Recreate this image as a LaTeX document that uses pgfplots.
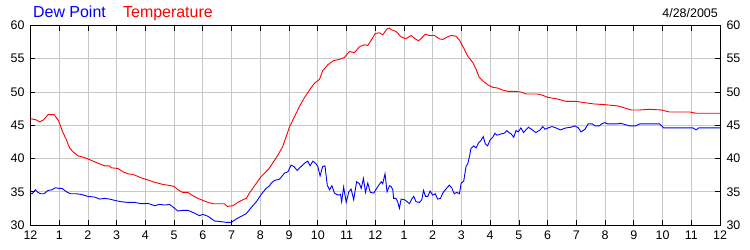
\documentclass[border=0pt]{standalone}
\usepackage{fontspec}
\setmainfont{Liberation Sans}
\usepackage{pgfplots}
\pgfplotsset{compat=1.18}
\definecolor{gridgray}{RGB}{200,200,200}
\definecolor{tblue}{RGB}{0,0,255}
\definecolor{tred}{RGB}{255,0,0}
\begin{document}
\begin{tikzpicture}
\useasboundingbox (0,0) rectangle (750bp,250bp);
\pgfplotsset{commonax/.style={
  at={(30.5bp,25bp)}, anchor=south west, scale only axis,
  width=689.5bp, height=199.5bp,
  xmin=0, xmax=24, ymin=30, ymax=60,
  xtick={0,...,24}, ytick={30,35,...,60},
  tick align=inside, major tick length=5bp,
  /pgf/number format/assume math mode=true,
  tick label style={font=\fontsize{12.5}{14}\selectfont},
}}
\begin{axis}[commonax,
  xticklabels={12,1,2,3,4,5,6,7,8,9,10,11,12,1,2,3,4,5,6,7,8,9,10,11,12},
  grid=major, major grid style={color=gridgray, line width=0.9bp},
  xtick pos=both, ytick pos=both,
  tick style={black, line width=0.8bp},
  axis line style={black, line width=1bp},
  xticklabel pos=left, yticklabel pos=left,
  xticklabel style={yshift=-2bp},
  yticklabel style={xshift=-2.5bp},
]
\addplot[tred, line width=0.9bp] coordinates {
(0,46.0) (0.2,45.8) (0.32,45.5) (0.45,45.8) (0.61,46.6) (0.82,46.6) (0.96,45.8) (1.01,45.3) (1.11,44.1) (1.25,42.8) (1.36,41.6) (1.48,41.0) (1.65,40.4) (1.83,40.2) (2.02,39.9) (2.23,39.5) (2.4,39.2) (2.58,38.9) (2.75,38.9) (2.81,38.6) (3.04,38.5) (3.22,38.0) (3.39,37.7) (3.57,37.6) (3.74,37.3) (3.91,37.0) (4.14,36.7) (4.26,36.5) (4.43,36.3) (4.61,36.1) (4.90,35.9) (5.0,35.8) (5.13,35.3) (5.30,34.9) (5.48,34.9) (5.65,34.4) (5.83,34.0) (6.0,33.7) (6.18,33.4) (6.35,33.2) (6.58,33.2) (6.75,33.2) (6.85,32.8) (7.04,32.9) (7.22,33.4) (7.39,33.8) (7.51,34.0) (7.62,34.8) (7.80,35.9) (8.03,37.3) (8.15,37.8) (8.32,38.6) (8.43,39.3) (8.61,40.5) (8.78,41.8) (8.90,43.3) (9.01,44.7) (9.19,46.3) (9.36,47.8) (9.54,49.2) (9.71,50.3) (9.88,51.3) (10.06,51.9) (10.17,53.2) (10.35,54.1) (10.54,54.7) (10.75,54.9) (10.93,55.2) (11.10,56.1) (11.27,55.9) (11.45,56.8) (11.62,57.1) (11.74,57.0) (11.86,57.8) (12.0,58.8) (12.15,58.9) (12.26,58.6) (12.41,59.5) (12.49,59.6) (12.55,59.4) (12.72,59.1) (12.90,58.3) (13.07,58.0) (13.25,58.5) (13.36,58.1) (13.5,57.7) (13.59,58.0) (13.74,58.7) (13.88,58.5) (14.06,58.5) (14.23,58.0) (14.35,57.9) (14.52,58.3) (14.64,58.5) (14.81,58.4) (14.93,57.8) (15.08,56.6) (15.22,55.4) (15.40,54.4) (15.51,53.4) (15.62,52.2) (15.74,51.7) (15.91,51.1) (16.09,50.7) (16.26,50.6) (16.43,50.3) (16.61,50.1) (16.84,50.1) (17.07,50.0) (17.25,49.7) (17.65,49.7) (17.83,49.5) (18.0,49.2) (18.29,49.0) (18.46,48.8) (18.64,48.6) (18.98,48.6) (19.28,48.4) (19.62,48.2) (19.98,48.1) (20.22,48.0) (20.45,47.9) (20.68,47.6) (20.91,47.3) (21.2,47.3) (21.55,47.4) (21.95,47.3) (22.24,47.0) (22.59,47.0) (22.94,47.0) (23.17,46.8) (23.52,46.8) (24,46.8)
};
\addplot[tblue, line width=0.9bp] coordinates {
(0,34.8) (0.06,34.7) (0.17,35.3) (0.26,34.9) (0.35,34.7) (0.47,34.7) (0.61,35.2) (0.75,35.3) (0.86,35.6) (1.01,35.5) (1.10,35.5) (1.25,35.0) (1.39,34.7) (1.59,34.7) (1.77,34.6) (2.0,34.3) (2.23,34.2) (2.41,33.9) (2.58,34.0) (2.75,33.9) (2.93,33.7) (3.16,33.5) (3.39,33.4) (3.62,33.4) (3.86,33.2) (4.09,33.25) (4.32,32.9) (4.49,33.1) (4.67,33.0) (4.84,33.1) (4.96,32.7) (5.13,32.1) (5.30,32.2) (5.48,32.2) (5.65,31.9) (5.88,31.4) (6.0,31.6) (6.18,31.3) (6.41,30.6) (6.64,30.5) (6.81,30.4) (6.99,30.4) (7.16,30.9) (7.33,31.3) (7.51,31.7) (7.68,32.6) (7.86,33.5) (8.03,34.6) (8.20,35.5) (8.32,35.9) (8.38,36.3) (8.49,36.7) (8.67,36.9) (8.84,37.8) (8.96,38.0) (9.07,39.0) (9.17,38.8) (9.28,38.2) (9.42,38.8) (9.54,39.3) (9.65,39.6) (9.73,38.9) (9.83,39.6) (9.94,39.2) (10.0,38.8) (10.08,37.4) (10.17,38.8) (10.25,38.9) (10.33,36.0) (10.41,35.3) (10.49,35.9) (10.58,34.8) (10.70,34.5) (10.79,34.6) (10.83,33.5) (10.90,35.7) (10.99,33.4) (11.08,35.0) (11.16,35.4) (11.25,33.8) (11.35,36.5) (11.45,36.2) (11.51,35.5) (11.59,37.0) (11.66,34.9) (11.74,36.3) (11.83,34.9) (11.95,34.8) (12.09,35.8) (12.21,36.5) (12.26,36.2) (12.34,37.7) (12.41,35.0) (12.5,35.9) (12.55,35.8) (12.61,35.3) (12.64,34.0) (12.72,34.0) (12.78,33.5) (12.84,32.5) (12.90,33.9) (13.02,33.8) (13.11,33.5) (13.19,33.2) (13.27,33.9) (13.34,34.3) (13.42,33.5) (13.54,33.4) (13.62,33.8) (13.68,35.2) (13.75,34.3) (13.83,34.3) (13.91,35.1) (14.0,34.5) (14.09,34.7) (14.17,33.9) (14.27,34.0) (14.35,34.8) (14.46,35.4) (14.58,36.0) (14.66,35.6) (14.75,34.7) (14.84,34.9) (14.93,34.7) (14.99,36.3) (15.08,36.6) (15.16,38.8) (15.22,39.2) (15.28,40.3) (15.33,41.5) (15.43,41.9) (15.51,41.6) (15.59,42.3) (15.68,42.7) (15.76,43.3) (15.83,42.2) (15.91,41.9) (16.0,42.8) (16.09,43.2) (16.17,43.8) (16.24,43.5) (16.38,43.7) (16.49,43.8) (16.58,44.2) (16.68,43.8) (16.73,43.7) (16.82,43.2) (16.9,44.2) (16.98,44.0) (17.07,44.6) (17.16,43.9) (17.33,44.7) (17.44,44.4) (17.59,43.9) (17.74,44.3) (17.83,44.8) (17.91,44.4) (18.02,44.6) (18.15,44.8) (18.29,44.6) (18.44,44.3) (18.64,44.6) (18.81,44.7) (18.95,44.9) (19.07,44.6) (19.16,44.0) (19.30,44.4) (19.41,45.2) (19.56,45.2) (19.65,44.9) (19.80,44.9) (19.88,45.2) (19.99,45.4) (20.09,45.2) (20.45,45.2) (20.50,45.3) (20.62,45.2) (20.85,44.9) (21.06,44.9) (21.2,45.2) (21.9,45.2) (22.04,44.6) (23.06,44.6) (23.17,44.3) (23.26,44.6) (24,44.6)
};
\end{axis}
\begin{axis}[commonax,
  xticklabels={}, axis line style={draw=none}, tick style={draw=none},
  yticklabel pos=right, yticklabel style={xshift=3bp},
]
\end{axis}
\node[anchor=base west, inner sep=0pt, font=\fontsize{16}{18}\selectfont, text=tblue] at (33bp,232bp) {Dew Point};
\node[anchor=base west, inner sep=0pt, font=\fontsize{16}{18}\selectfont, text=tred] at (123bp,232bp) {Temperature};
\node[anchor=base east, inner sep=0pt, font=\fontsize{12.5}{14}\selectfont] at (718bp,232.5bp) {4/28/2005};
\end{tikzpicture}
\end{document}
